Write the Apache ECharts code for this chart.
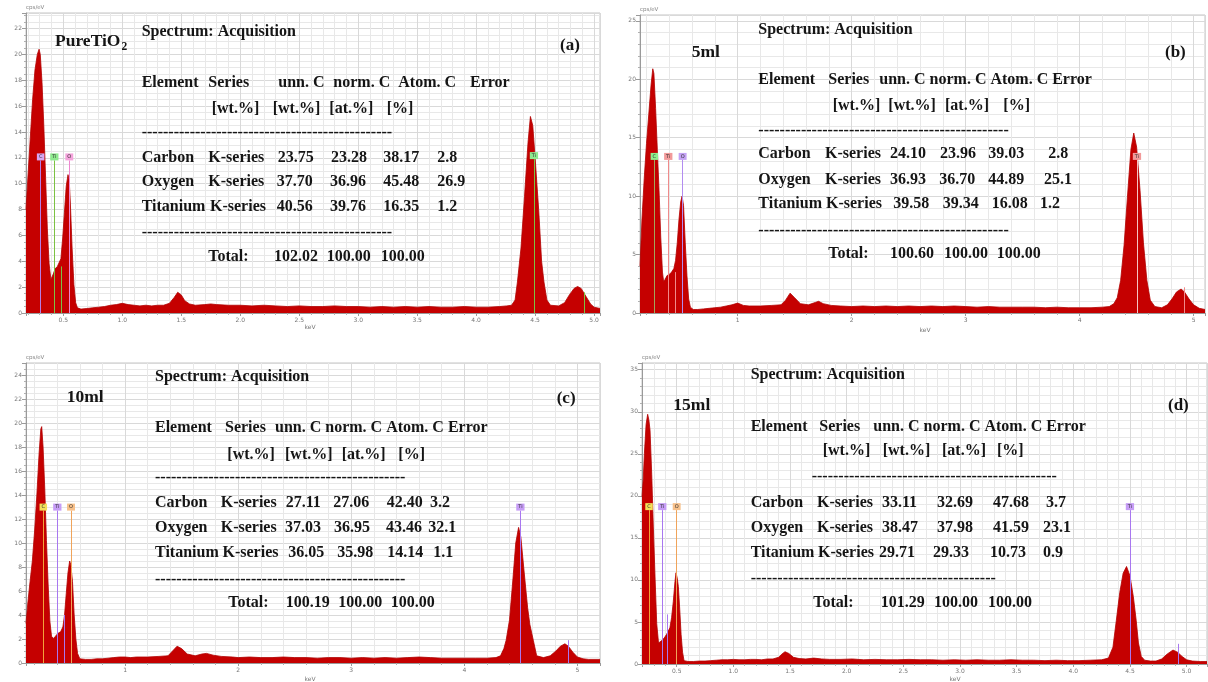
<!DOCTYPE html>
<html><head><meta charset="utf-8">
<script src="https://cdn.jsdelivr.net/npm/echarts@6.0.0/dist/echarts.min.js"></script>
<style>html,body{margin:0;padding:0;background:#fff}#c{width:1208px;height:682px}</style>
</head><body><div id="c"></div>
<script>
// ---------------- DATA ----------------
const specA = [[0.184,8.0],[0.20,10.5],[0.22,13.5],[0.24,16.5],[0.26,18.8],[0.28,20.0],[0.295,20.4],[0.305,20.0],[0.32,17.8],[0.335,14.5],[0.35,10.5],[0.365,6.5],[0.38,3.8],[0.395,2.6],[0.405,2.5],[0.415,3.0],[0.43,3.4],[0.45,3.6],[0.465,3.5],[0.48,4.2],[0.495,5.8],[0.51,7.8],[0.525,9.8],[0.54,10.7],[0.55,10.3],[0.56,8.5],[0.575,5.0],[0.59,2.2],[0.605,0.8],[0.62,0.4],[0.65,0.3],[0.70,0.35],[0.75,0.4],[0.80,0.45],[0.85,0.5],[0.90,0.6],[0.95,0.65],[1.00,0.75],[1.05,0.65],[1.10,0.6],[1.15,0.55],[1.20,0.6],[1.25,0.55],[1.30,0.6],[1.35,0.6],[1.40,0.75],[1.44,1.2],[1.47,1.6],[1.50,1.4],[1.53,0.95],[1.57,0.7],[1.62,0.6],[1.70,0.65],[1.75,0.7],[1.80,0.65],[1.90,0.6],[2.00,0.6],[2.10,0.55],[2.20,0.6],[2.30,0.55],[2.40,0.5],[2.50,0.55],[2.60,0.5],[2.70,0.5],[2.80,0.55],[2.90,0.5],[3.00,0.5],[3.10,0.45],[3.20,0.5],[3.30,0.45],[3.40,0.5],[3.50,0.45],[3.60,0.5],[3.70,0.45],[3.80,0.45],[3.90,0.5],[4.00,0.45],[4.10,0.45],[4.20,0.5],[4.26,0.55],[4.30,0.6],[4.33,1.0],[4.35,2.4],[4.38,5.0],[4.41,9.0],[4.44,13.2],[4.46,15.2],[4.48,14.5],[4.50,12.0],[4.53,8.0],[4.555,4.0],[4.575,2.4],[4.60,1.0],[4.63,0.6],[4.70,0.55],[4.75,0.8],[4.79,1.4],[4.83,1.9],[4.86,2.05],[4.89,1.9],[4.93,1.3],[4.97,0.7],[5.00,0.45],[5.05,0.35]];
const specB = [[0.143,4.0],[0.16,8.0],[0.18,11.5],[0.20,14.5],[0.22,17.0],[0.24,19.5],[0.255,20.9],[0.265,20.5],[0.28,17.5],[0.295,14.0],[0.31,10.5],[0.325,6.5],[0.34,3.5],[0.35,2.7],[0.365,2.9],[0.38,3.2],[0.40,3.3],[0.42,3.5],[0.44,3.8],[0.455,4.5],[0.47,6.0],[0.485,8.0],[0.50,9.5],[0.512,10.0],[0.525,9.2],[0.54,6.0],[0.555,3.2],[0.57,1.2],[0.585,0.5],[0.61,0.3],[0.65,0.3],[0.70,0.35],[0.75,0.4],[0.80,0.45],[0.85,0.5],[0.90,0.6],[0.95,0.7],[1.00,0.85],[1.05,0.65],[1.10,0.6],[1.20,0.6],[1.30,0.65],[1.38,0.7],[1.42,1.1],[1.46,1.7],[1.50,1.3],[1.55,0.8],[1.62,0.7],[1.68,0.9],[1.71,1.0],[1.75,0.8],[1.82,0.65],[1.90,0.6],[2.00,0.55],[2.10,0.6],[2.20,0.55],[2.30,0.6],[2.40,0.55],[2.50,0.6],[2.60,0.55],[2.70,0.6],[2.80,0.55],[2.90,0.6],[3.00,0.55],[3.10,0.5],[3.20,0.55],[3.30,0.5],[3.40,0.5],[3.50,0.5],[3.60,0.5],[3.70,0.45],[3.80,0.5],[3.90,0.45],[4.00,0.45],[4.10,0.45],[4.20,0.5],[4.26,0.55],[4.30,0.8],[4.33,1.3],[4.36,2.8],[4.39,5.8],[4.42,10.0],[4.45,14.0],[4.475,15.4],[4.50,14.2],[4.53,10.5],[4.56,6.0],[4.59,2.8],[4.62,1.1],[4.66,0.55],[4.72,0.45],[4.77,0.7],[4.81,1.2],[4.85,1.8],[4.89,2.05],[4.92,1.8],[4.96,1.2],[5.00,0.7],[5.05,0.4],[5.10,0.3]];
const specC = [[0.124,3.3],[0.14,5.0],[0.16,6.8],[0.18,8.5],[0.20,11.0],[0.22,14.0],[0.24,17.5],[0.255,19.5],[0.263,19.7],[0.275,18.0],[0.29,14.5],[0.305,10.2],[0.32,6.5],[0.335,3.5],[0.35,2.2],[0.37,2.05],[0.39,2.3],[0.41,2.5],[0.43,2.6],[0.45,3.0],[0.465,4.0],[0.48,5.8],[0.495,7.5],[0.51,8.5],[0.52,8.2],[0.535,6.8],[0.55,4.0],[0.565,2.0],[0.58,0.8],[0.60,0.35],[0.65,0.3],[0.70,0.3],[0.75,0.35],[0.80,0.35],[0.85,0.4],[0.90,0.45],[0.95,0.5],[1.00,0.5],[1.05,0.45],[1.10,0.5],[1.20,0.5],[1.30,0.55],[1.38,0.6],[1.42,1.0],[1.46,1.4],[1.50,1.2],[1.55,0.75],[1.62,0.6],[1.68,0.75],[1.72,0.8],[1.78,0.65],[1.85,0.55],[1.95,0.5],[2.00,0.45],[2.10,0.5],[2.20,0.45],[2.30,0.45],[2.40,0.5],[2.50,0.45],[2.60,0.45],[2.70,0.4],[2.80,0.45],[2.90,0.45],[3.00,0.4],[3.10,0.45],[3.20,0.4],[3.30,0.45],[3.40,0.4],[3.50,0.45],[3.60,0.5],[3.70,0.45],[3.80,0.4],[3.90,0.4],[4.00,0.4],[4.10,0.4],[4.20,0.4],[4.28,0.45],[4.32,0.6],[4.35,1.2],[4.37,1.9],[4.40,3.6],[4.43,7.0],[4.455,10.0],[4.48,11.3],[4.50,10.5],[4.53,7.5],[4.56,4.6],[4.58,3.2],[4.61,1.9],[4.64,0.6],[4.70,0.45],[4.76,0.6],[4.81,1.0],[4.85,1.4],[4.89,1.6],[4.92,1.4],[4.96,0.9],[5.00,0.5],[5.05,0.35],[5.10,0.3],[5.20,0.3]];
const specD = [[0.194,19.9],[0.205,22.0],[0.215,25.0],[0.23,28.5],[0.244,29.7],[0.255,29.0],[0.265,27.8],[0.28,22.5],[0.294,16.3],[0.31,10.0],[0.324,4.8],[0.34,2.5],[0.355,2.6],[0.37,2.8],[0.39,3.1],[0.41,3.5],[0.44,4.3],[0.455,5.5],[0.47,7.4],[0.485,9.8],[0.494,10.85],[0.505,10.2],[0.515,9.2],[0.527,6.5],[0.539,3.5],[0.552,1.4],[0.565,0.4],[0.60,0.3],[0.65,0.3],[0.70,0.35],[0.75,0.35],[0.80,0.4],[0.85,0.45],[0.90,0.5],[0.95,0.5],[1.00,0.55],[1.05,0.5],[1.10,0.5],[1.15,0.55],[1.20,0.55],[1.25,0.5],[1.30,0.6],[1.35,0.6],[1.40,0.8],[1.43,1.2],[1.456,1.46],[1.49,1.25],[1.53,0.8],[1.58,0.65],[1.64,0.6],[1.71,0.7],[1.78,0.6],[1.85,0.55],[1.95,0.55],[2.05,0.6],[2.15,0.5],[2.25,0.55],[2.35,0.5],[2.45,0.5],[2.55,0.55],[2.65,0.5],[2.75,0.5],[2.85,0.45],[2.95,0.5],[3.05,0.45],[3.15,0.5],[3.25,0.45],[3.35,0.45],[3.45,0.5],[3.55,0.45],[3.65,0.45],[3.75,0.4],[3.85,0.45],[3.95,0.4],[4.05,0.4],[4.15,0.45],[4.25,0.5],[4.31,0.7],[4.35,2.0],[4.38,5.2],[4.41,8.5],[4.44,10.8],[4.47,11.6],[4.50,10.5],[4.53,8.0],[4.555,5.2],[4.575,2.5],[4.60,0.9],[4.63,0.45],[4.68,0.35],[4.73,0.35],[4.78,0.6],[4.83,1.2],[4.88,1.66],[4.92,1.4],[4.96,0.9],[5.00,0.5],[5.05,0.35],[5.12,0.3],[5.18,0.3]];

// element marker lines: [element, keV, label level]
const markersA = [['C',0.308,11.8],['Ti',0.424,11.8],['O',0.551,11.8],['Ti',4.49,11.9]];
const markersB = [['C',0.269,13.1],['Ti',0.391,13.1],['O',0.517,13.1],['Ti',4.503,13.1]];
const markersC = [['C',0.277,12.7],['Ti',0.401,12.7],['O',0.522,12.7],['Ti',4.496,12.7]];
const markersD = [['C',0.256,18.3],['Ti',0.373,18.3],['O',0.50,18.3],['Ti',4.50,18.3]];
// short unlabeled lines: [element, keV, height]
const shortA = [['Ti',0.486,3.6],['Ti',4.92,1.6]];
const shortB = [['Ti',0.45,3.5],['Ti',4.92,2.2]];
const shortC = [['Ti',0.46,4.0],['Ti',4.92,1.9]];
const shortD = [['Ti',0.42,5.9],['Ti',4.93,2.4]];

const sampleNames = ['PureTiO2','5ml','10ml','15ml'];
const panelTags = ['(a)','(b)','(c)','(d)'];
const spectrumTitle = 'Spectrum: Acquisition';
const headerTop = ['Element','Series','unn. C','norm. C','Atom. C','Error'];
const headerUnits = ['[wt.%]','[wt.%]','[at.%]','[%]'];
const elementNames = ['Carbon','Oxygen','Titanium'];
const lineSeriesName = 'K-series';
const totalLabel = 'Total:';
const tableA = [['23.75','23.28','38.17','2.8'],['37.70','36.96','45.48','26.9'],['40.56','39.76','16.35','1.2']];
const totalA = ['102.02','100.00','100.00'];
const tableB = [['24.10','23.96','39.03','2.8'],['36.93','36.70','44.89','25.1'],['39.58','39.34','16.08','1.2']];
const totalB = ['100.60','100.00','100.00'];
const tableC = [['27.11','27.06','42.40','3.2'],['37.03','36.95','43.46','32.1'],['36.05','35.98','14.14','1.1']];
const totalC = ['100.19','100.00','100.00'];
const tableD = [['33.11','32.69','47.68','3.7'],['38.47','37.98','41.59','23.1'],['29.71','29.33','10.73','0.9']];
const totalD = ['101.29','100.00','100.00'];
const yAxisName = 'cps/eV';
const xAxisName = 'keV';

// ---------------- STYLE / LAYOUT ----------------
const colA = {C:{box:'#d7a6f2',line:'#b57de6'}, Ti:{box:'#8eea8e',line:'#7cc242'}, O:{box:'#f5a3dc',line:'#ee86cf'}};
const colB = {C:{box:'#8ff08f',line:'#a3a65a'}, Ti:{box:'#f29a9a',line:'#f08a8a'}, O:{box:'#c4a2f5',line:'#b28cf0'}};
const colCD = {C:{box:'#f2e05a',line:'#f2a33a'}, Ti:{box:'#c69cf6',line:'#a877f0'}, O:{box:'#f7c08a',line:'#f0a45a'}};

const panels = [
 {spec:specA, markers:markersA, shorts:shortA, cols:colA, table:tableA, total:totalA,
  grid:{left:26,top:13,width:574,height:300}, xr:[0.184,5.05], xSplit:10, xDec:1, ymax:23.2, yInt:2, yMinor:4,
  title:[141.7,31.7], tag:[560,45.7], sample:[55,41.7], h1Y:82.7, h1X:[141.7,208.3,278.3,333.3,398.3,470], h2Y:109.3, h2X:[211.7,272.7,329.3,386.7],
  dash:[[141.7,133.3,47],[141.7,233.3,47]], rowsY:[157.7,181.7,206.7],
  rowsX:[[141.7,208.3,277.7,331,383.3,437.3],[141.7,208.3,276.7,330,383.3,437.3],[141.7,210,276.7,330,383.3,437.3]],
  totY:256.7, totX:[208.3,274,326.7,380.7], kev:[310,327]},
 {spec:specB, markers:markersB, shorts:shortB, cols:colB, kLine:'#f6c4c4', table:tableB, total:totalB,
  grid:{left:640,top:15,width:565,height:298}, xr:[0.143,5.10], xSplit:5, xDec:0, ymax:25.5, yInt:5, yMinor:5,
  title:[758.3,30], tag:[1165,52.3], sample:[691.7,52.7], h1Y:80, h1X:[758.3,828.3,879.3], h2Y:105.7, h2X:[832.7,888.3,945,1003.3],
  dash:[[758.3,131,47],[758.3,231,47]], rowsY:[154.3,180,204.3],
  rowsX:[[758.3,825,890,940,988.3,1048.3],[758.3,825,890,939.3,988.3,1044],[758.3,826,893.3,942.7,991.7,1040]],
  totY:254.3, totX:[828.3,890,944,996.7], kev:[925,330]},
 {spec:specC, markers:markersC, shorts:shortC, cols:colCD, table:tableC, total:totalC,
  grid:{left:26,top:363,width:574,height:300}, xr:[0.124,5.2], xSplit:5, xDec:0, ymax:25, yInt:2, yMinor:4,
  title:[155,377.3], tag:[556.7,398.3], sample:[66.7,397.3], h1Y:428.3, h1X:[155,225,275], h2Y:455, h2X:[227.3,285,341.7,398.3],
  dash:[[155,478.3,47],[155,580,47]], rowsY:[503.3,528.3,552.7],
  rowsX:[[155,220.7,285.7,333.3,386.7,430],[155,220.7,285,334,386,428.3],[155,222.5,288.3,337.3,387.3,433.3]],
  totY:603.3, totX:[228.3,285.7,338.3,390.7], kev:[310,679]},
 {spec:specD, markers:markersD, shorts:shortD, cols:colCD, table:tableD, total:totalD,
  grid:{left:642,top:363,width:565,height:301}, xr:[0.194,5.18], xSplit:10, xDec:1, ymax:35.8, yInt:5, yMinor:5,
  title:[750.7,375], tag:[1168,406], sample:[673.3,405], h1Y:427.3, h1X:[750.7,819.3,873.3], h2Y:451, h2X:[822.7,882.7,942,997],
  dash:[[811.7,476.7,46],[750.7,579.3,46]], rowsY:[503.3,528.3,552.7],
  rowsX:[[750.7,817,882,937,993,1046],[750.7,817,882,937,993,1043],[750.7,818,879,933,990,1043]],
  totY:603.3, totX:[813.3,880.7,934,988], kev:[955,679]}
];

const FONT = '"Liberation Serif","Times New Roman",serif';
function txt(x, y, s, size, opt) {
  opt = opt || {};
  return {type:'text', x:x, y:y, z:100, silent:true,
    style:{text:s, font:(opt.weight||'bold')+' '+size+'px '+FONT, fill:opt.fill||'#151515',
      textAlign:'left', textVerticalAlign:'middle', align:'left', verticalAlign:'middle'}};
}

const graphics = [];
panels.forEach((p, i) => {
  graphics.push(txt(p.title[0], p.title[1], spectrumTitle, 16));
  graphics.push(txt(p.tag[0], p.tag[1], panelTags[i], 17));
  const nm = sampleNames[i];
  if (/TiO2$/.test(nm)) {
    graphics.push(txt(p.sample[0], p.sample[1], nm.slice(0,-1), 17.5));
    graphics.push(txt(p.sample[0]+66.5, p.sample[1]+5, nm.slice(-1), 11.5));
  } else {
    graphics.push(txt(p.sample[0], p.sample[1], nm, 17.5));
  }
  if (p.h1X.length === 6) {
    headerTop.forEach((h, k) => graphics.push(txt(p.h1X[k], p.h1Y, h, 16)));
  } else {
    graphics.push(txt(p.h1X[0], p.h1Y, headerTop[0], 16));
    graphics.push(txt(p.h1X[1], p.h1Y, headerTop[1], 16));
    graphics.push(txt(p.h1X[2], p.h1Y, headerTop.slice(2).join(' '), 16));
  }
  headerUnits.forEach((h, k) => graphics.push(txt(p.h2X[k], p.h2Y, h, 16)));
  p.dash.forEach(d => graphics.push(txt(d[0], d[1], '-'.repeat(d[2]), 16)));
  elementNames.forEach((el, r) => {
    const xs = p.rowsX[r], y = p.rowsY[r];
    graphics.push(txt(xs[0], y, el, 16));
    graphics.push(txt(xs[1], y, lineSeriesName, 16));
    p.table[r].forEach((v, k) => graphics.push(txt(xs[2+k], y, v, 16)));
  });
  graphics.push(txt(p.totX[0], p.totY, totalLabel, 16));
  p.total.forEach((v, k) => graphics.push(txt(p.totX[1+k], p.totY, v, 16)));
  graphics.push({type:'text', x:p.kev[0], y:p.kev[1], z:100, silent:true,
    style:{text:xAxisName, font:'6px "DejaVu Sans",sans-serif', fill:'#777', textAlign:'center', textVerticalAlign:'middle', align:'center', verticalAlign:'middle'}});
});

function markLineOf(p) {
  const data = [];
  p.markers.forEach((m, k) => {
    const c = p.cols[m[0]];
    const lineColor = (k === 3 && p.kLine) ? p.kLine : c.line;
    data.push([
      {coord:[m[1], 0], lineStyle:{color:lineColor, width:1, type:'solid'},
       label:{show:true, position:'end', formatter:m[0], backgroundColor:c.box, color:'#333',
              fontSize:5, fontFamily:'DejaVu Sans', padding:[1,2,1,2], distance:0}},
      {coord:[m[1], m[2]]}
    ]);
  });
  p.shorts.forEach(s => {
    data.push([
      {coord:[s[1], 0], lineStyle:{color:p.cols[s[0]].line, width:1, type:'solid'}, label:{show:false}},
      {coord:[s[1], s[2]]}
    ]);
  });
  return {symbol:['none','none'], silent:true, animation:false, emphasis:{disabled:true}, data:data};
}

const axisGray = '#9a9a9a';
const option = {
  backgroundColor:'#ffffff',
  animation:false,
  grid: panels.map(p => Object.assign({show:true, borderColor:'#c4c4c4', borderWidth:1, backgroundColor:'transparent', containLabel:false, outerBoundsMode:'none'}, p.grid)),
  xAxis: panels.map((p, i) => ({
    type:'value', gridIndex:i, min:p.xr[0], max:p.xr[1], splitNumber:p.xSplit,
    axisLine:{show:true, onZero:false, lineStyle:{color:axisGray, width:1}},
    axisTick:{show:true, length:3, lineStyle:{color:axisGray}},
    minorTick:{show:true, splitNumber:5, length:2, lineStyle:{color:'#b0b0b0'}},
    axisLabel:{fontSize:6, color:'#777', margin:4, fontFamily:'DejaVu Sans', showMinLabel:false, showMaxLabel:false,
      formatter: (v) => v.toFixed(p.xDec)},
    splitLine:{show:true, lineStyle:{color:'#d9d9d9', width:1}},
    minorSplitLine:{show:true, lineStyle:{color:'#e8e8e8', width:1}}
  })),
  yAxis: panels.map((p, i) => ({
    type:'value', gridIndex:i, min:0, max:p.ymax, interval:p.yInt,
    name:yAxisName, nameLocation:'end', nameGap:2,
    nameTextStyle:{fontSize:5.5, color:'#888', align:'left', verticalAlign:'bottom', fontFamily:'DejaVu Sans'},
    axisLine:{show:true, onZero:false, lineStyle:{color:axisGray, width:1}},
    axisTick:{show:true, length:4, lineStyle:{color:axisGray}},
    minorTick:{show:true, splitNumber:p.yMinor, length:2, lineStyle:{color:'#b0b0b0'}},
    axisLabel:{fontSize:6, color:'#777', margin:4, fontFamily:'DejaVu Sans', showMaxLabel:false},
    splitLine:{show:true, lineStyle:{color:'#d9d9d9', width:1}},
    minorSplitLine:{show:true, lineStyle:{color:'#e8e8e8', width:1}}
  })),
  series: panels.map((p, i) => ({
    type:'line', xAxisIndex:i, yAxisIndex:i, data:p.spec, showSymbol:false, symbol:'none',
    lineStyle:{color:'#b20000', width:0.8}, areaStyle:{color:'#c50000', opacity:1},
    silent:true, clip:true, z:2, markLine:markLineOf(p)
  })),
  graphic: graphics
};

const chart = echarts.init(document.getElementById('c'), null, {renderer:'canvas'});
chart.setOption(option);
</script></body></html>
